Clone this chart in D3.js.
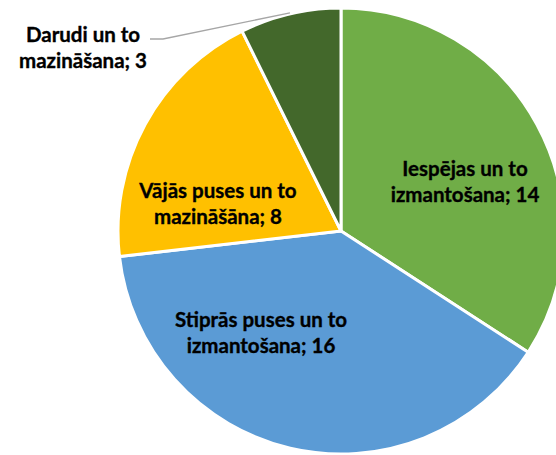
<!DOCTYPE html>
<html>
<head>
<meta charset="utf-8">
<script src="https://cdn.jsdelivr.net/npm/d3@7"></script>
<style>
  body { margin: 0; background: #fff; }
  text { font-family: Lato, "Open Sans", sans-serif; font-weight: bold; fill: #000; stroke: #000; stroke-width: 0.35px; }
</style>
</head>
<body>
<div id="container"></div>
<script>
/* DATA */
const categories = [
  "Iespējas un to izmantošana",
  "Stiprās puses un to izmantošana",
  "Vājās puses un to mazināšāna",
  "Darudi un to mazināšana"
];
const values = [14, 16, 8, 3];
const labelLines = [
  ["Iespējas un to", "izmantošana; 14"],
  ["Stiprās puses un to", "izmantošana; 16"],
  ["Vājās puses un to", "mazināšāna; 8"],
  ["Darudi un to", "mazināšana; 3"]
];
const colors = ["#70ad47", "#5b9bd5", "#ffc000", "#43682b"];

/* CONSTANTS */
const width = 556;
const height = 455;
const cx = 341, cy = 231;
const radius = 223;

const data = categories.map((c, i) => ({ category: c, value: values[i], lines: labelLines[i] }));

const svg = d3.select('#container')
  .append('svg')
  .attr('width', width)
  .attr('height', height);

const pie = d3.pie()
  .value(d => d.value)
  .sort(null);

const arc = d3.arc()
  .innerRadius(0)
  .outerRadius(radius);

const arcs = pie(data);

const g = svg.append('g')
  .attr('transform', `translate(${cx},${cy})`);

g.selectAll('path')
  .data(arcs)
  .join('path')
  .attr('d', arc)
  .attr('fill', (d, i) => colors[i])
  .attr('stroke', '#fff')
  .attr('stroke-width', 3)
  .attr('stroke-linejoin', 'round');

// label anchors (first baseline, centred), placed like Excel "best fit"
const labelPos = [
  [124, -55],
  [-80, 96],
  [-123, -33],
  [-258, -189]
];
const lineH = 26;

const labels = g.selectAll('text.lbl')
  .data(arcs)
  .join('text')
  .attr('class', 'lbl')
  .attr('text-anchor', 'middle')
  .attr('font-size', 20.5)
  .attr('transform', (d, i) => `translate(${labelPos[i][0]},${labelPos[i][1]})`);

labels.selectAll('tspan')
  .data(d => d.data.lines)
  .join('tspan')
  .attr('x', 0)
  .attr('y', (d, j) => j * lineH)
  .text(d => d);

// leader line for the small outside slice
const small = arcs[3];
const mid = (small.startAngle + small.endAngle) / 2;
const edge = [Math.sin(mid) * (radius + 1), -Math.cos(mid) * (radius + 1)];
g.append('polyline')
  .attr('points', [[-191, -192], [-178, -192], edge].map(p => p.join(',')).join(' '))
  .attr('fill', 'none')
  .attr('stroke', '#a6a6a6')
  .attr('stroke-width', 1.3);
</script>
</body>
</html>
